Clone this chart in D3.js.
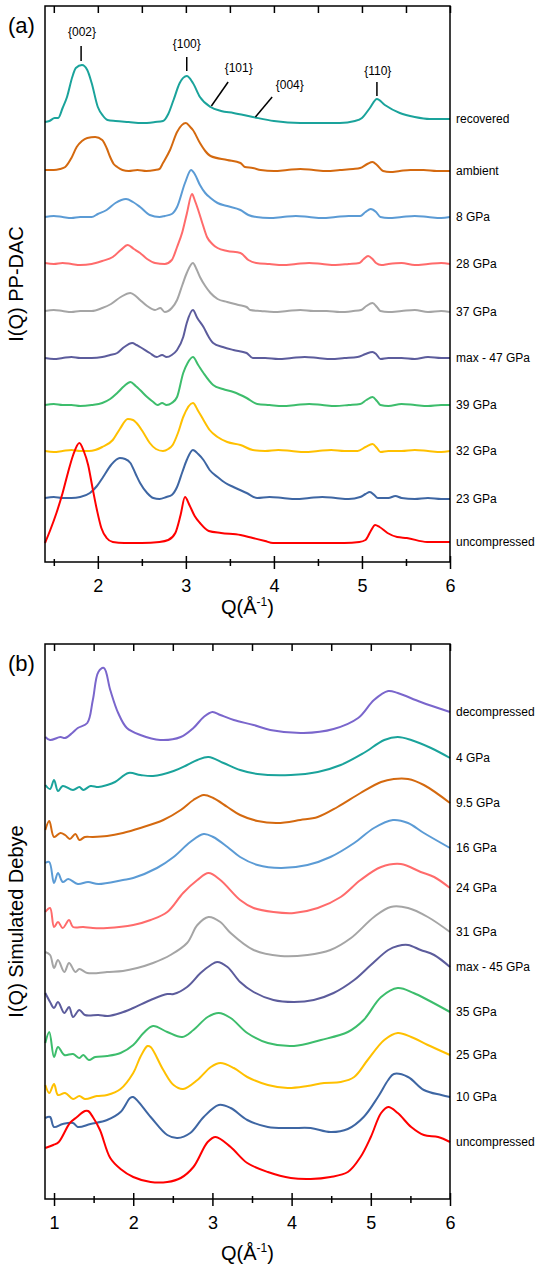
<!DOCTYPE html>
<html>
<head>
<meta charset="utf-8">
<script src="https://cdn.jsdelivr.net/npm/d3@7"></script>
<style>
body { margin: 0; background: #fff; }
text { font-family: "Liberation Sans", Arial, sans-serif; fill: #000; }
</style>
</head>
<body>
<div id="chart"></div>
<script>
// ---- panel (a): measured I(Q), PP-DAC ----
// each curve: [Q, intensity above its own baseline], arbitrary units
var recoveredA = [[1.40,-2],[1.45,-1],[1.51,2],[1.55,2],[1.60,12],[1.65,23],[1.71,43],[1.75,52],[1.82,55],[1.88,50],[1.93,37],[2.00,13],[2.06,4],[2.11,0],[2.20,-1],[2.35,-2],[2.50,-3],[2.65,-2],[2.74,-1],[2.80,6],[2.86,20],[2.93,37],[3.01,44],[3.08,37],[3.16,23],[3.28,13],[3.40,9],[3.54,7],[3.76,3],[4.00,-1],[4.30,-3],[4.75,-3],[4.92,-1],[5.00,2],[5.09,12],[5.17,21],[5.26,15],[5.43,7],[5.60,3],[5.77,1],[6.00,1]];
var ambientA = [[1.40,0],[1.50,0],[1.57,1],[1.63,3],[1.70,12],[1.76,23],[1.82,29],[1.88,32],[1.97,33],[2.05,30],[2.10,22],[2.14,13],[2.18,6],[2.22,3],[2.28,0],[2.35,-1],[2.45,0],[2.55,-1],[2.65,0],[2.70,1],[2.74,7],[2.82,20],[2.90,38],[3.00,47],[3.05,43],[3.08,40],[3.16,27],[3.22,19],[3.28,14],[3.47,10],[3.62,7],[3.67,3],[3.76,2],[3.85,0],[4.00,-1],[4.15,0],[4.30,1],[4.45,0],[4.60,-1],[4.75,0],[4.90,1],[4.98,2],[5.06,6],[5.12,8],[5.17,5],[5.24,-1],[5.32,-2],[5.43,-1],[5.55,0],[5.70,0],[5.85,-1],[6.00,-1]];
var gpa8A = [[1.40,0],[1.50,1],[1.60,0],[1.70,-1],[1.80,0],[1.93,0],[2.00,3],[2.10,7],[2.20,14],[2.32,18],[2.40,15],[2.48,10],[2.59,2],[2.70,0],[2.76,1],[2.84,3],[2.90,10],[2.99,34],[3.06,47],[3.10,43],[3.16,32],[3.22,24],[3.28,19],[3.36,14],[3.47,11],[3.62,7],[3.71,2],[3.80,0],[3.95,-1],[4.10,0],[4.25,1],[4.40,0],[4.55,-1],[4.70,0],[4.85,1],[4.98,1],[5.04,5],[5.10,8],[5.16,5],[5.21,0],[5.30,-1],[5.45,0],[5.60,1],[5.75,0],[5.90,-1],[6.00,0]];
var gpa28A = [[1.40,1],[1.50,0],[1.60,1],[1.70,0],[1.80,-1],[1.93,0],[2.05,3],[2.17,7],[2.26,14],[2.34,19],[2.41,15],[2.48,11],[2.56,5],[2.65,1],[2.76,0],[2.84,4],[2.90,17],[2.96,32],[3.01,50],[3.07,70],[3.10,64],[3.14,54],[3.19,40],[3.24,27],[3.30,20],[3.36,16],[3.47,13],[3.62,11],[3.71,4],[3.80,1],[3.95,0],[4.10,-1],[4.25,0],[4.40,1],[4.55,0],[4.70,-1],[4.85,0],[4.97,1],[5.02,5],[5.07,8],[5.12,5],[5.16,1],[5.22,-1],[5.30,0],[5.45,1],[5.60,-1],[5.75,0],[5.90,1],[6.00,0]];
var gpa37A = [[1.40,0],[1.50,1],[1.60,0],[1.70,-1],[1.80,0],[1.93,0],[2.05,3],[2.15,7],[2.26,14],[2.37,18],[2.43,15],[2.48,11],[2.56,5],[2.65,1],[2.71,3],[2.76,-1],[2.84,3],[2.90,11],[2.96,26],[3.01,38],[3.08,48],[3.12,42],[3.16,34],[3.22,25],[3.28,18],[3.36,12],[3.47,9],[3.60,6],[3.69,4],[3.73,1],[3.85,0],[4.00,-1],[4.15,0],[4.30,1],[4.45,0],[4.60,0],[4.75,-1],[4.90,0],[4.99,1],[5.05,5],[5.12,8],[5.17,4],[5.21,0],[5.30,-1],[5.45,0],[5.60,1],[5.75,-1],[5.90,0],[6.00,-1]];
var max47A = [[1.40,0],[1.50,-1],[1.60,0],[1.70,1],[1.80,0],[1.93,0],[2.05,1],[2.14,3],[2.22,5],[2.30,11],[2.39,15],[2.44,13],[2.48,11],[2.59,5],[2.67,1],[2.73,3],[2.78,1],[2.84,3],[2.90,8],[2.97,21],[3.01,35],[3.08,48],[3.13,40],[3.20,31],[3.26,21],[3.31,15],[3.42,11],[3.54,8],[3.69,5],[3.76,0],[3.90,0],[4.05,-1],[4.20,0],[4.35,1],[4.50,0],[4.65,-1],[4.80,0],[4.95,1],[5.04,4],[5.12,6],[5.16,4],[5.21,-1],[5.30,0],[5.45,0],[5.60,-1],[5.75,1],[5.90,0],[6.00,0]];
var gpa39A = [[1.40,0],[1.50,1],[1.60,0],[1.70,0],[1.80,-1],[1.93,0],[2.05,2],[2.14,6],[2.22,12],[2.30,19],[2.37,23],[2.43,19],[2.48,15],[2.56,8],[2.63,3],[2.68,0],[2.73,2],[2.78,0],[2.84,2],[2.90,8],[2.97,32],[3.02,42],[3.08,48],[3.14,40],[3.20,32],[3.31,20],[3.42,16],[3.54,13],[3.69,7],[3.81,1],[3.95,0],[4.10,-1],[4.25,0],[4.40,1],[4.55,0],[4.70,-1],[4.85,0],[4.98,1],[5.05,5],[5.12,8],[5.17,4],[5.21,0],[5.30,-1],[5.45,1],[5.60,0],[5.75,-1],[5.90,0],[6.00,0]];
var gpa32A = [[1.40,0],[1.50,-1],[1.60,0],[1.70,1],[1.80,0],[1.90,0],[1.97,1],[2.05,4],[2.17,11],[2.25,22],[2.34,32],[2.40,31],[2.44,28],[2.52,18],[2.59,8],[2.66,2],[2.74,0],[2.80,2],[2.85,6],[2.91,18],[2.97,34],[3.08,48],[3.14,40],[3.20,31],[3.27,21],[3.36,14],[3.47,9],[3.62,6],[3.76,1],[3.90,0],[4.05,1],[4.20,0],[4.35,-1],[4.50,0],[4.65,1],[4.80,0],[4.95,0],[5.04,4],[5.12,7],[5.17,3],[5.21,-1],[5.30,0],[5.45,0],[5.60,1],[5.75,0],[5.90,-1],[6.00,0]];
var gpa23A = [[1.40,0],[1.50,1],[1.60,0],[1.70,0],[1.80,1],[1.91,5],[1.99,12],[2.06,21],[2.15,33],[2.25,40],[2.31,39],[2.37,35],[2.43,24],[2.48,15],[2.56,5],[2.63,0],[2.70,-1],[2.78,1],[2.84,3],[2.90,11],[2.96,26],[3.01,38],[3.08,48],[3.14,44],[3.20,38],[3.27,28],[3.36,21],[3.45,15],[3.54,11],[3.69,5],[3.81,0],[3.95,1],[4.10,0],[4.25,-1],[4.40,0],[4.55,1],[4.70,0],[4.85,-1],[4.98,1],[5.04,4],[5.09,6],[5.14,3],[5.18,0],[5.30,0],[5.38,2],[5.45,0],[5.60,-1],[5.75,0],[5.90,-1],[6.00,-1]];
var uncompA = [[1.40,0],[1.46,13],[1.53,30],[1.60,50],[1.66,70],[1.72,88],[1.79,100],[1.84,92],[1.89,78],[1.94,55],[1.99,33],[2.04,15],[2.10,5],[2.17,1],[2.30,0],[2.50,0],[2.70,1],[2.80,3],[2.88,10],[2.94,28],[2.99,46],[3.04,38],[3.10,27],[3.16,20],[3.26,12],[3.40,10],[3.62,8],[3.76,5],[3.90,2],[3.99,0],[4.20,0],[4.50,0],[4.80,0],[4.97,1],[5.04,3],[5.10,12],[5.15,18],[5.20,16],[5.29,10],[5.40,6],[5.51,5],[5.74,1],[6.00,1]];

var namesA = ["recovered", "ambient", "8 GPa", "28 GPa", "37 GPa", "max - 47 GPa", "39 GPa", "32 GPa", "23 GPa", "uncompressed"];
var offsetsA = [442, 392, 345, 298, 251, 204, 157, 111, 64, 19];
var curvesA = [recoveredA, ambientA, gpa8A, gpa28A, gpa37A, max47A, gpa39A, gpa32A, gpa23A, uncompA];

// reflection labels: text Q, text level, leader line (q1,y1)-(q2,y2)
var peakLabels = ["{002}", "{100}", "{101}", "{004}", "{110}"];
var peakTextQ = [1.82, 3.01, 3.60, 4.18, 5.18];
var peakTextY = [530, 518, 494, 477, 491];
var peakLine = [[1.81,516,1.81,501],[3.01,505,3.01,491],[3.48,480,3.29,456],[3.98,465,3.79,445],[5.17,480,5.17,466]];

// ---- panel (b): simulated Debye I(Q) ----
var decompB = [[0.89,3],[0.95,0],[1.08,3],[1.14,2],[1.23,7],[1.30,12],[1.42,17],[1.49,40],[1.56,68],[1.63,72],[1.71,50],[1.81,27],[1.92,12],[2.09,5],[2.34,0],[2.60,3],[2.76,12],[2.89,23],[3.00,28],[3.10,25],[3.27,20],[3.52,15],[3.73,10],[4.15,7],[4.53,11],[4.84,22],[5.04,40],[5.22,49],[5.34,47],[5.63,38],[6.00,28]];
var gpa4B = [[0.89,0],[0.95,-4],[1.00,5],[1.05,-6],[1.11,-1],[1.24,-5],[1.32,-2],[1.37,-5],[1.46,-1],[1.56,-2],[1.67,0],[1.77,3],[1.94,12],[2.09,10],[2.25,9],[2.51,14],[2.68,20],[2.81,25],[2.95,28],[3.14,22],[3.35,15],[3.57,11],[3.99,10],[4.33,13],[4.62,20],[4.91,32],[5.17,45],[5.34,48],[5.51,45],[5.76,37],[6.00,27]];
var gpa95B = [[0.89,5],[0.94,14],[1.00,-2],[1.08,2],[1.14,0],[1.20,-4],[1.27,1],[1.32,-5],[1.39,-2],[1.49,-2],[1.67,-1],[1.87,2],[2.09,7],[2.38,15],[2.60,25],[2.76,35],[2.89,40],[3.01,37],[3.19,28],[3.35,20],[3.57,14],[3.82,12],[4.11,15],[4.33,18],[4.58,28],[4.87,42],[5.13,53],[5.29,56],[5.47,56],[5.67,50],[6.00,32]];
var gpa16B = [[0.89,19],[0.94,20],[1.00,-1],[1.05,9],[1.11,0],[1.18,3],[1.30,-2],[1.43,0],[1.56,-2],[1.87,2],[2.00,4],[2.30,14],[2.51,25],[2.72,40],[2.89,48],[3.01,45],[3.19,35],[3.35,25],[3.57,17],[3.86,14],[4.20,17],[4.49,25],[4.79,39],[5.04,54],[5.28,62],[5.47,59],[5.67,49],[6.00,34]];
var gpa24B = [[0.89,15],[0.95,19],[1.00,0],[1.05,5],[1.11,-1],[1.19,7],[1.24,0],[1.37,0],[1.49,-1],[1.67,-1],[2.00,2],[2.22,7],[2.43,15],[2.63,34],[2.81,47],[2.95,54],[3.10,47],[3.35,27],[3.52,19],[3.77,15],[4.03,14],[4.33,19],[4.62,30],[4.87,47],[5.13,60],[5.38,63],[5.63,55],[5.80,50],[6.00,39]];
var gpa31B = [[0.89,18],[0.95,15],[1.00,2],[1.05,10],[1.13,-2],[1.19,7],[1.27,-2],[1.32,1],[1.42,-3],[1.56,-3],[1.67,-2],[1.87,-1],[2.05,2],[2.25,7],[2.47,15],[2.68,27],[2.81,45],[2.95,53],[3.10,48],[3.23,37],[3.52,20],[3.86,14],[4.20,15],[4.49,20],[4.75,32],[5.04,53],[5.25,63],[5.47,62],[5.72,53],[6.00,38]];
var max45B = [[0.89,20],[0.95,11],[1.00,5],[1.05,11],[1.13,0],[1.19,6],[1.24,-4],[1.32,3],[1.39,-2],[1.56,-2],[1.68,-3],[1.84,0],[2.00,5],[2.22,13],[2.43,19],[2.51,19],[2.68,26],[2.85,40],[2.98,48],[3.06,51],[3.19,46],[3.35,31],[3.52,21],[3.77,13],[4.03,11],[4.28,13],[4.53,20],[4.79,33],[5.00,48],[5.22,63],[5.34,67],[5.47,68],[5.63,63],[5.80,58],[6.00,46]];
var gpa35B = [[0.89,14],[0.94,25],[1.00,0],[1.05,10],[1.13,2],[1.24,3],[1.32,-1],[1.37,2],[1.44,-3],[1.52,0],[1.67,1],[1.84,4],[2.00,12],[2.13,24],[2.25,31],[2.43,25],[2.62,20],[2.76,27],[2.94,40],[3.08,44],[3.23,39],[3.44,24],[3.70,14],[4.03,11],[4.37,17],[4.71,25],[4.91,37],[5.13,60],[5.34,69],[5.54,64],[5.72,57],[6.00,45]];
var gpa25B = [[0.89,15],[0.94,7],[1.00,16],[1.05,5],[1.14,7],[1.24,1],[1.32,4],[1.39,1],[1.54,4],[1.67,5],[1.84,11],[2.00,27],[2.09,43],[2.18,54],[2.22,53],[2.38,30],[2.51,15],[2.63,11],[2.81,20],[2.98,33],[3.10,37],[3.27,32],[3.44,23],[3.70,15],[3.95,12],[4.20,14],[4.41,17],[4.62,18],[4.79,23],[4.96,40],[5.17,60],[5.34,67],[5.51,63],[5.72,55],[6.00,45]];
var gpa10B = [[0.89,8],[0.95,9],[1.00,-1],[1.11,2],[1.24,3],[1.30,-1],[1.46,2],[1.67,6],[1.84,14],[1.96,28],[2.00,29],[2.22,9],[2.43,-9],[2.56,-12],[2.72,-7],[2.89,9],[3.08,21],[3.23,18],[3.44,6],[3.70,-1],[3.99,-2],[4.24,-2],[4.49,-6],[4.71,-3],[4.91,9],[5.09,29],[5.22,46],[5.29,52],[5.47,49],[5.67,36],[5.89,31],[6.00,29]];
var uncompB = [[0.89,32],[0.99,35],[1.06,38],[1.20,57],[1.29,63],[1.39,69],[1.43,69],[1.49,63],[1.58,50],[1.71,22],[1.84,11],[2.00,3],[2.22,-2],[2.43,-2],[2.60,2],[2.76,13],[2.94,38],[3.04,43],[3.23,33],[3.44,17],[3.70,8],[3.99,2],[4.24,1],[4.49,3],[4.71,8],[4.87,23],[5.00,43],[5.13,67],[5.22,73],[5.34,67],[5.51,53],[5.67,45],[5.85,43],[6.00,38]];

var namesB = ["decompressed", "4 GPa", "9.5 GPa", "16 GPa", "24 GPa", "31 GPa", "max - 45 GPa", "35 GPa", "25 GPa", "10 GPa", "uncompressed"];
var offsetsB = [459, 414, 364, 317, 272, 229, 186, 142, 99, 73, 19];
var curvesB = [decompB, gpa4B, gpa95B, gpa16B, gpa24B, gpa31B, max45B, gpa35B, gpa25B, gpa10B, uncompB];

var majorA = [2, 3, 4, 5, 6], minorA = [1.5, 2.5, 3.5, 4.5, 5.5];
var majorB = [1, 2, 3, 4, 5, 6], minorB = [1.5, 2.5, 3.5, 4.5, 5.5];

// colours
var colorsA = ["#1aa39b", "#d4690f", "#5b9bd5", "#ff6b6b", "#a5a5a5", "#5c5c9c", "#3dbd6c", "#ffc000", "#3e66a3", "#ff0000"];
var colorsB = ["#7a66cc", "#1aa39b", "#d4690f", "#5b9bd5", "#ff6b6b", "#a5a5a5", "#5c5c9c", "#3dbd6c", "#ffc000", "#3e66a3", "#ff0000"];

var width = 538, height = 1267;
var svg = d3.select("#chart").append("svg")
    .attr("width", width)
    .attr("height", height);

function drawPanel(p) {
    var g = svg.append("g");

    // curves
    p.curves.forEach(function (pts, i) {
        var line = d3.line()
            .x(function (d) { return p.x(d[0]); })
            .y(function (d) { return p.y(p.offsets[i] + d[1]); })
            .curve(p.curve);
        g.append("path")
            .datum(pts)
            .attr("d", line)
            .attr("fill", "none")
            .attr("stroke", p.colors[i])
            .attr("stroke-width", 2)
            .attr("stroke-linejoin", "round");
        var last = pts[pts.length - 1];
        g.append("text")
            .attr("x", p.x.range()[1] + 6)
            .attr("y", p.y(p.offsets[i] + last[1]))
            .attr("dy", "0.35em")
            .style("font-size", "12px")
            .text(p.names[i]);
    });

    var x0 = p.x.range()[0], x1 = p.x.range()[1];
    var yTop = p.y.range()[1], yBot = p.y.range()[0];

    // frame
    g.append("rect")
        .attr("x", x0).attr("y", yTop)
        .attr("width", x1 - x0).attr("height", yBot - yTop)
        .attr("fill", "none")
        .attr("stroke", "#000")
        .attr("stroke-width", 1.5);

    // bottom axis, ticks crossing the line
    var bottom = g.append("g")
        .attr("transform", "translate(0," + yBot + ")")
        .call(d3.axisBottom(p.x).tickValues(p.major).tickSizeInner(7).tickSizeOuter(0).tickPadding(10).tickFormat(d3.format("d")));
    bottom.selectAll(".tick line").attr("y1", -6).attr("stroke-width", 1.5);
    bottom.selectAll(".tick text").style("font-size", "18px").style("font-family", "'Liberation Sans', Arial, sans-serif");
    bottom.select(".domain").remove();

    var bminor = g.append("g")
        .attr("transform", "translate(0," + yBot + ")")
        .call(d3.axisBottom(p.x).tickValues(p.minor).tickSizeInner(4).tickSizeOuter(0).tickFormat(""));
    bminor.selectAll(".tick line").attr("y1", -3).attr("stroke-width", 1.5);
    bminor.select(".domain").remove();

    // top axis, inward ticks
    var top = g.append("g")
        .attr("transform", "translate(0," + yTop + ")")
        .call(d3.axisTop(p.x).tickValues(p.major.concat(p.minor)).tickSizeInner(-7).tickSizeOuter(0).tickFormat(""));
    top.selectAll(".tick line").attr("stroke-width", 1.5);
    top.select(".domain").remove();

    // axis titles
    var xt = g.append("text")
        .attr("x", (x0 + x1) / 2)
        .attr("y", p.titleY)
        .attr("text-anchor", "middle")
        .style("font-size", "20px");
    xt.append("tspan").text("Q(Å");
    xt.append("tspan").attr("dy", -8).style("font-size", "12px").text("-1");
    xt.append("tspan").attr("dy", 8).text(")");

    g.append("text")
        .attr("transform", "translate(23," + ((yTop + yBot) / 2) + ") rotate(-90)")
        .attr("text-anchor", "middle")
        .style("font-size", "20px")
        .text(p.ytitle);

    g.append("text")
        .attr("x", 8)
        .attr("y", yTop + 27)
        .style("font-size", "22px")
        .text(p.tag);

    return g;
}

var xA = d3.scaleLinear().domain([1.4, 6]).range([45, 450]);
var yA = d3.scaleLinear().domain([0, 556]).range([562, 6]);
var xB = d3.scaleLinear().domain([0.886, 6]).range([45, 450]);
var yB = d3.scaleLinear().domain([0, 555]).range([1199, 644]);

var gA = drawPanel({x: xA, y: yA, curves: curvesA, offsets: offsetsA, names: namesA, colors: colorsA, curve: d3.curveMonotoneX,
    major: majorA, minor: minorA, titleY: 614, ytitle: "I(Q) PP-DAC", tag: "(a)"});
drawPanel({x: xB, y: yB, curves: curvesB, offsets: offsetsB, names: namesB, colors: colorsB, curve: d3.curveCatmullRom.alpha(0.5),
    major: majorB, minor: minorB, titleY: 1260, ytitle: "I(Q) Simulated Debye", tag: "(b)"});

// reflection labels on the recovered curve
peakLabels.forEach(function (lab, i) {
    gA.append("text")
        .attr("x", xA(peakTextQ[i]))
        .attr("y", yA(peakTextY[i]))
        .attr("dy", "0.35em")
        .attr("text-anchor", "middle")
        .style("font-size", "12px")
        .text(lab);
    gA.append("line")
        .attr("x1", xA(peakLine[i][0])).attr("y1", yA(peakLine[i][1]))
        .attr("x2", xA(peakLine[i][2])).attr("y2", yA(peakLine[i][3]))
        .attr("stroke", "#000")
        .attr("stroke-width", 1.5);
});
</script>
</body>
</html>
